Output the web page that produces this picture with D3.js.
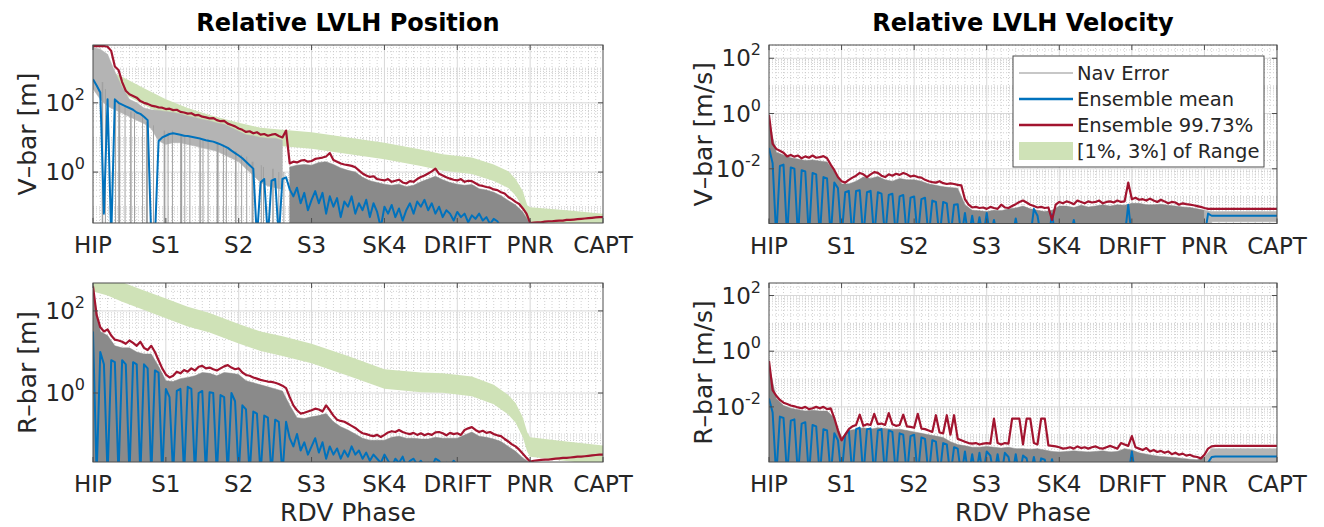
<!DOCTYPE html>
<html>
<head>
<meta charset="utf-8">
<script src="https://cdn.jsdelivr.net/npm/d3@7"></script>
<style>
  html, body { margin: 0; padding: 0; background: #fff; }
  svg { display: block; font-family: "DejaVu Sans", sans-serif; }
</style>
</head>
<body>
<svg id="fig" width="1324" height="527"></svg>
<script>
// ---- Rendezvous phases (x axis) ----
const phaseLabels = ["HIP", "S1", "S2", "S3", "SK4", "DRIFT", "PNR", "CAPT"];

// Traces are sampled every 0.05 phase; the Nav Error envelopes every 0.1 phase.
// All trace values are log10 of the error (m or m/s).
const STEP = 0.05;
const COARSE = 0.1;

// ---------- V-bar position error [m] ----------
const posVbarP997 = [
  3.64,3.64,3.64,3.64,3.62,3.5,3.05,2.95,2.6,2.35,2.25,2.2,2.15,2.05,2.0,1.97,1.92,1.9,1.87,1.86,
  1.82,1.83,1.79,1.8,1.74,1.72,1.69,1.7,1.64,1.65,1.6,1.58,1.55,1.56,1.5,1.47,1.48,1.4,1.36,1.32,
  1.26,1.22,1.16,1.18,1.12,1.15,1.08,1.1,1.05,1.08,1.1,1.04,1.0,1.2,0.25,0.3,0.28,0.33,0.35,0.3,
  0.32,0.38,0.4,0.42,0.45,0.55,0.35,0.3,0.25,0.22,0.2,0.18,0.14,0.05,-0.04,-0.1,-0.14,-0.12,-0.2,-0.22,
  -0.24,-0.2,-0.28,-0.25,-0.22,-0.3,-0.33,-0.26,-0.28,-0.2,-0.14,-0.1,-0.04,0.02,0.1,-0.05,-0.1,-0.15,-0.19,-0.22,
  -0.24,-0.2,-0.28,-0.25,-0.26,-0.32,-0.38,-0.4,-0.43,-0.45,-0.5,-0.52,-0.58,-0.62,-0.72,-0.78,-0.86,-0.92,-1.05,-1.2,
  -1.47,-1.46,-1.45,-1.45,-1.43,-1.42,-1.42,-1.41,-1.4,-1.4,-1.38,-1.38,-1.37,-1.36,-1.35,-1.34,-1.33,-1.32,-1.31,-1.3,
  -1.3
];
const posVbarMean = [
  2.68,2.5,2.3,-1.2,2.1,-1.9,2.1,2.0,1.95,1.9,1.85,1.8,1.72,1.68,1.6,1.5,-1.9,-1.9,0.9,1.0,
  1.05,1.1,1.12,1.1,1.08,1.05,1.04,1.02,1.0,0.98,0.95,0.92,0.9,0.88,0.84,0.8,0.75,0.7,0.62,0.55,
  0.48,0.4,0.3,0.2,0.1,-1.9,-0.3,-0.2,-1.9,-0.25,-0.2,-1.9,-0.2,-0.15,-0.5,-0.7,-0.45,-0.9,-0.6,-1.1,
  -0.8,-0.55,-0.9,-0.6,-1.2,-0.7,-1.0,-0.75,-1.3,-0.85,-1.0,-0.7,-1.2,-0.9,-1.1,-0.8,-1.3,-0.9,-1.15,-1.6,
  -1.0,-1.2,-0.95,-1.3,-1.05,-1.4,-1.1,-0.9,-1.2,-0.85,-1.0,-0.8,-1.1,-0.9,-1.2,-1.0,-1.3,-1.1,-1.2,-1.4,
  -1.15,-1.3,-1.2,-1.45,-1.25,-1.35,-1.2,-1.4,-1.3,-1.5,-1.35,-1.42,-1.6,-1.9,-1.9,-1.9,-1.9,-1.9,-1.9,-1.9,
  -1.9,-1.9,-1.9,-1.9,-1.9,-1.9,-1.9,-1.9,-1.9,-1.9,-1.9,-1.9,-1.9,-1.9,-1.9,-1.9,-1.9,-1.9,-1.9,-1.9,
  -1.9
];
const posVbarNavHi = [
  3.6,3.55,3.4,2.9,2.45,2.1,2.0,1.85,1.8,1.78,
  1.75,1.72,1.68,1.62,1.58,1.52,1.48,1.42,1.38,1.28,
  1.18,1.08,1.05,1.0,0.98,0.98,0.92,0.15,0.2,0.22,
  0.2,0.28,0.3,0.22,0.12,0.05,0.0,-0.15,-0.25,-0.3,
  -0.35,-0.38,-0.35,-0.42,-0.38,-0.28,-0.2,-0.12,-0.22,-0.3,
  -0.35,-0.38,-0.36,-0.48,-0.52,-0.58,-0.68,-0.82,-0.95,-1.15,
  -1.5,-1.5,-1.5,-1.5,-1.5,-1.5,-1.5,-1.5,-1.5,-1.5,
  -1.5
];
const posVbarNavLo = [
  2.4,2.1,1.9,1.8,1.7,1.6,1.5,1.4,1.25,0.9,
  0.8,0.85,0.85,0.8,0.75,0.7,0.65,0.6,0.5,0.4,
  0.3,0.1,-0.1,-0.3,-0.4,-0.45,-0.5,-2,-2,-2,
  -2,-2,-2,-2,-2,-2,-2,-2,-2,-2,
  -2,-2,-2,-2,-2,-2,-2,-2,-2,-2,
  -2,-2,-2,-2,-2,-2,-2,-2,-2,-2,
  -2,-2,-2,-2,-2,-2,-2,-2,-2,-2,
  -2
];
// individual Nav Error runs dropping through zero early in the approach
const posVbarDipPhase = [0.13,0.17,0.31,0.36,0.44,0.52,0.57,0.68,0.74,0.83,0.98,1.03,1.09,1.21,1.26,1.33,
  1.47,1.51,1.58,1.71,1.79,1.83,1.96,2.04,2.11,2.19,2.31,2.34,2.47,2.55,2.62];
const posVbarDipTop = [2.6,2.4,2.1,2.0,1.9,1.75,1.7,1.6,1.45,1.35,1.2,1.15,1.2,1.1,1.1,1.05,
  1.0,0.95,0.95,0.85,0.8,0.75,0.6,0.5,0.45,0.3,0.2,0.15,0.1,0.0,0.0];
const posVbarDipWidth = [1.5,1,1,2,1,1.5,1,1,2,1,1.5,1,1,2,1,1,1.5,1,1,2,1,1,1.5,1,1,2,1,1,1.5,1,1];

// ---------- R-bar position error [m] ----------
const posRbarP997 = [
  2.6,1.9,1.6,1.5,1.55,1.4,1.3,1.28,1.25,1.2,1.28,1.22,1.15,1.25,1.1,1.05,1.15,1.0,0.8,0.6,
  0.45,0.38,0.42,0.52,0.48,0.56,0.52,0.6,0.55,0.64,0.66,0.6,0.62,0.58,0.55,0.6,0.65,0.68,0.62,0.58,
  0.6,0.5,0.44,0.42,0.38,0.35,0.32,0.3,0.28,0.27,0.25,0.22,0.18,0.12,-0.1,-0.3,-0.42,-0.5,-0.48,-0.45,
  -0.42,-0.38,-0.4,-0.45,-0.3,-0.42,-0.55,-0.65,-0.68,-0.7,-0.75,-0.8,-0.85,-0.92,-0.98,-1.0,-1.03,-1.05,-1.02,-1.07,
  -1.02,-0.96,-0.93,-0.95,-0.9,-0.95,-0.98,-1.0,-0.97,-1.02,-0.98,-1.03,-0.99,-1.02,-0.96,-0.95,-0.98,-1.03,-0.97,-1.0,
  -0.98,-1.02,-0.9,-0.86,-0.83,-0.9,-0.95,-0.92,-0.97,-0.95,-1.0,-1.03,-1.05,-1.12,-1.18,-1.25,-1.3,-1.38,-1.48,-1.58,
  -1.67,-1.65,-1.64,-1.63,-1.62,-1.62,-1.61,-1.6,-1.59,-1.58,-1.58,-1.57,-1.56,-1.55,-1.55,-1.54,-1.53,-1.52,-1.51,-1.5,
  -1.5
];
const posRbarMean = [
  1.5,-2,1.0,0.7,-2,0.8,0.75,-2,0.8,0.7,-2,0.75,0.7,-2,0.7,0.6,-2,0.55,0.5,-2,
  0.1,-0.1,-2,0.05,0.1,-2,0.15,0.1,-2,0.0,0.05,-2,0.02,0.0,-2,-0.05,-0.1,-2,0.0,-0.2,
  -2,-0.3,-0.4,-2,-0.45,-0.5,-2,-0.55,-0.6,-2,-0.65,-0.7,-2,-0.7,-1.1,-1.3,-1.0,-1.4,-1.2,-1.5,
  -1.3,-1.1,-1.45,-1.2,-1.6,-1.3,-1.5,-1.35,-1.6,-1.4,-1.55,-1.3,-1.5,-1.4,-1.6,-1.45,-1.65,-1.5,-1.6,-1.7,
  -1.5,-1.65,-1.8,-1.6,-1.7,-1.55,-1.8,-1.65,-1.6,-1.75,-1.65,-1.8,-1.7,-1.8,-1.6,-1.65,-1.8,-1.7,-1.8,-1.65,
  -1.75,-1.8,-1.9,-1.9,-1.9,-1.9,-1.9,-1.9,-1.9,-1.9,-1.9,-1.9,-1.9,-1.9,-1.9,-1.9,-1.9,-1.9,-1.9,-1.9,
  -1.9,-1.9,-1.9,-1.9,-1.9,-1.9,-1.9,-1.9,-1.9,-1.9,-1.9,-1.9,-1.9,-1.9,-1.9,-1.9,-1.9,-1.9,-1.9,-1.9,
  -1.9
];
const posRbarNavHi = [
  2.5,1.5,1.4,1.15,1.1,1.1,1.0,0.95,0.95,0.65,
  0.3,0.28,0.35,0.38,0.42,0.5,0.48,0.42,0.5,0.48,
  0.45,0.3,0.25,0.2,0.15,0.1,0.05,-0.3,-0.6,-0.62,
  -0.58,-0.55,-0.5,-0.7,-0.82,-0.9,-1.0,-1.1,-1.15,-1.15,
  -1.15,-1.08,-1.05,-1.1,-1.1,-1.12,-1.12,-1.08,-1.1,-1.1,
  -1.1,-1.02,-0.95,-1.05,-1.08,-1.12,-1.18,-1.3,-1.42,-1.58,
  -1.7,-1.7,-1.7,-1.7,-1.7,-1.7,-1.7,-1.7,-1.7,-1.7,
  -1.7
];

// Reference range per axis [m]; the shaded band spans 1 % to 3 % of it
const bandPhase = [0,0.2,0.4,0.7,1.0,1.3,1.6,2.0,2.3,2.6,3.0,3.5,4.0,4.5,4.8,5.2,5.5,5.7,5.8,5.9,5.96,6.0,6.5,7.0];
const vbarRangeM = [37400,29700,18800,8800,4200,2350,1490,880,640,556,470,333,236,149,110,88,55,35,21,9.4,3.7,3.2,2.65,2.1];
const rbarRangeM = [29700,23600,16700,10500,6650,4200,2970,1600,1050,800,528,265,127,105,101,84,53,30,19,8.4,3.7,2.8,2.2,1.75];

// ---------- V-bar velocity error [m/s] ----------
const velVbarP997 = [
  -0.05,-1.1,-1.28,-1.35,-1.42,-1.55,-1.5,-1.56,-1.52,-1.62,-1.55,-1.6,-1.52,-1.6,-1.58,-1.54,-1.62,-1.85,-2.05,-2.3,
  -2.45,-2.5,-2.4,-2.32,-2.25,-2.15,-2.2,-2.3,-2.2,-2.12,-2.15,-2.25,-2.3,-2.2,-2.25,-2.18,-2.22,-2.15,-2.2,-2.28,
  -2.25,-2.3,-2.32,-2.4,-2.45,-2.48,-2.5,-2.45,-2.52,-2.55,-2.53,-2.55,-2.58,-2.6,-3.1,-3.3,-3.4,-3.38,-3.42,-3.4,
  -3.45,-3.38,-3.42,-3.45,-3.3,-3.4,-3.42,-3.35,-3.28,-3.2,-3.15,-3.22,-3.3,-3.35,-3.4,-3.38,-3.42,-3.4,-3.85,-3.3,
  -3.2,-3.25,-3.18,-3.22,-3.28,-3.15,-3.2,-3.25,-3.18,-3.22,-3.2,-3.15,-3.25,-3.2,-3.18,-3.22,-3.15,-3.2,-3.18,-2.5,
  -3.1,-3.05,-3.12,-3.1,-3.15,-3.08,-3.15,-3.2,-3.12,-3.18,-3.25,-3.2,-3.22,-3.3,-3.25,-3.28,-3.3,-3.32,-3.35,-3.38,
  -3.42,-3.45,-3.45,-3.45,-3.45,-3.45,-3.45,-3.45,-3.45,-3.45,-3.45,-3.45,-3.45,-3.45,-3.45,-3.45,-3.45,-3.45,-3.45,-3.45,
  -3.45
];
const velVbarMean = [
  -1.25,-1.8,-4.5,-1.9,-1.85,-4.5,-1.95,-2.0,-4.5,-2.05,-2.1,-4.5,-2.15,-2.2,-4.5,-2.3,-2.35,-4.5,-2.5,-2.7,
  -4.5,-2.85,-2.8,-4.5,-2.8,-2.78,-4.5,-2.85,-2.8,-4.5,-2.85,-2.9,-4.5,-2.95,-2.9,-4.5,-3.0,-2.95,-4.5,-3.05,
  -3.0,-4.5,-3.1,-3.05,-4.5,-3.15,-3.2,-4.5,-3.2,-3.25,-4.5,-3.3,-3.28,-4.5,-3.6,-4.5,-3.7,-4.5,-3.75,-4.5,
  -3.6,-4.5,-3.85,-4.5,-4.5,-4.5,-4.5,-4.5,-3.8,-4.5,-4.5,-4.5,-4.5,-3.45,-3.7,-4.5,-4.5,-4.5,-3.65,-4.5,
  -4.5,-4.5,-4.5,-4.5,-3.85,-4.5,-4.5,-4.5,-4.5,-4.5,-4.5,-4.5,-4.5,-4.5,-4.5,-4.5,-4.5,-4.5,-4.5,-3.3,
  -4.5,-4.5,-4.5,-4.5,-4.5,-4.5,-4.5,-4.5,-4.5,-4.5,-4.5,-4.5,-4.5,-4.5,-4.5,-4.5,-4.5,-4.5,-4.5,-4.5,
  -4.5,-3.62,-3.7,-3.7,-3.7,-3.7,-3.7,-3.7,-3.7,-3.7,-3.7,-3.7,-3.7,-3.7,-3.7,-3.7,-3.7,-3.7,-3.7,-3.7,
  -3.7
];
const velVbarNavHi = [
  -0.3,-1.4,-1.5,-1.6,-1.65,-1.7,-1.68,-1.72,-1.75,-2.1,
  -2.55,-2.55,-2.45,-2.3,-2.35,-2.28,-2.4,-2.45,-2.35,-2.4,
  -2.4,-2.45,-2.55,-2.6,-2.65,-2.68,-2.7,-3.3,-3.5,-3.52,
  -3.55,-3.5,-3.52,-3.45,-3.42,-3.35,-3.45,-3.5,-3.55,-3.5,
  -3.35,-3.35,-3.4,-3.32,-3.38,-3.35,-3.3,-3.35,-3.3,-3.32,
  -3.25,-3.25,-3.3,-3.3,-3.28,-3.32,-3.35,-3.38,-3.4,-3.45,
  -3.5,-3.55,-3.55,-3.55,-3.55,-3.55,-3.55,-3.55,-3.55,-3.55,
  -3.55
];
const velVbarNavLo = [
  -5,-5,-5,-5,-5,-5,-5,-5,-5,-5,
  -5,-5,-5,-5,-5,-5,-5,-5,-5,-5,
  -5,-5,-5,-5,-5,-5,-5,-5,-5,-5,
  -5,-5,-5,-5,-5,-5,-5,-5,-5,-5,
  -5,-5,-5,-5,-5,-5,-5,-5,-5,-5,
  -5,-5,-5,-5,-5,-5,-5,-5,-5,-5,
  -5,-3.92,-3.92,-3.92,-3.92,-3.92,-3.92,-3.92,-3.92,-3.92,
  -3.92
];

// ---------- R-bar velocity error [m/s] ----------
const velRbarP997 = [
  -0.35,-1.4,-1.6,-1.75,-1.85,-1.9,-1.95,-1.98,-2.02,-2.05,-2.0,-2.08,-2.05,-2.0,-2.05,-2.0,-2.08,-2.05,-2.4,-2.85,
  -3.2,-3.0,-2.8,-2.7,-2.65,-2.28,-2.68,-2.62,-2.65,-2.25,-2.62,-2.6,-2.65,-2.22,-2.62,-2.68,-2.65,-2.28,-2.7,-2.72,
  -2.75,-2.25,-2.78,-2.8,-2.85,-2.9,-2.3,-2.92,-2.95,-2.3,-3.0,-2.3,-3.15,-3.2,-3.25,-3.3,-3.32,-3.3,-3.35,-3.32,
  -3.3,-3.32,-2.42,-3.3,-3.35,-3.3,-3.32,-2.42,-2.42,-2.42,-3.35,-2.42,-2.42,-3.3,-3.35,-2.42,-2.42,-3.38,-3.4,-3.42,
  -3.45,-3.5,-3.48,-3.45,-3.5,-3.42,-3.48,-3.45,-3.5,-3.45,-3.42,-3.48,-3.5,-3.45,-3.4,-3.45,-3.5,-3.3,-3.35,-3.4,
  -3.05,-3.45,-3.5,-3.55,-3.48,-3.6,-3.55,-3.62,-3.58,-3.65,-3.6,-3.7,-3.65,-3.72,-3.68,-3.75,-3.72,-3.78,-3.8,-3.85,
  -3.72,-3.5,-3.42,-3.4,-3.4,-3.4,-3.4,-3.4,-3.4,-3.4,-3.4,-3.4,-3.4,-3.4,-3.4,-3.4,-3.4,-3.4,-3.4,-3.4,
  -3.4
];
const velRbarMean = [
  -1.7,-2.2,-4.5,-2.35,-2.4,-4.5,-2.5,-2.45,-4.5,-2.6,-2.55,-4.5,-2.65,-2.7,-4.5,-2.8,-2.85,-4.5,-2.95,-3.2,
  -4.5,-3.0,-2.85,-4.5,-2.8,-2.75,-4.5,-2.8,-2.78,-4.5,-2.85,-2.8,-4.5,-2.85,-2.9,-4.5,-2.95,-3.0,-4.5,-3.05,
  -3.0,-4.5,-3.1,-3.15,-4.5,-3.2,-3.25,-4.5,-3.3,-3.35,-4.5,-3.45,-3.5,-4.5,-3.6,-4.5,-3.7,-4.5,-3.65,-4.5,
  -3.6,-3.75,-4.5,-3.7,-4.5,-3.65,-3.8,-4.5,-3.7,-4.5,-3.75,-3.85,-4.5,-3.8,-4.5,-3.85,-3.9,-4.5,-3.88,-4.5,
  -4.5,-4.5,-4.5,-4.5,-4.5,-4.5,-4.5,-4.5,-4.5,-4.5,-4.5,-4.5,-4.5,-4.5,-4.5,-4.5,-4.5,-4.5,-4.5,-4.5,
  -3.6,-4.5,-4.5,-4.5,-4.5,-4.5,-4.5,-4.5,-4.5,-4.5,-4.5,-4.5,-4.5,-4.5,-4.5,-4.5,-4.5,-4.5,-4.5,-4.5,
  -4.5,-4.0,-3.8,-3.78,-3.78,-3.78,-3.78,-3.78,-3.78,-3.78,-3.78,-3.78,-3.78,-3.78,-3.78,-3.78,-3.78,-3.78,-3.78,-3.78,
  -3.78
];
const velRbarNavHi = [
  -0.5,-1.7,-1.95,-2.05,-2.1,-2.15,-2.12,-2.15,-2.15,-2.4,
  -3.1,-2.85,-2.8,-2.75,-2.8,-2.75,-2.78,-2.8,-2.8,-2.85,
  -2.9,-2.95,-3.0,-3.05,-3.1,-3.25,-3.35,-3.4,-3.45,-3.45,
  -3.42,-3.45,-3.48,-3.45,-3.5,-3.5,-3.52,-3.5,-3.55,-3.6,
  -3.62,-3.6,-3.58,-3.6,-3.62,-3.6,-3.58,-3.62,-3.6,-3.5,
  -3.55,-3.65,-3.7,-3.75,-3.78,-3.8,-3.82,-3.85,-3.88,-3.9,
  -3.8,-3.5,-3.5,-3.5,-3.5,-3.5,-3.5,-3.5,-3.5,-3.5,
  -3.5
];
const velRbarNavLo = [
  -5,-5,-5,-5,-5,-5,-5,-5,-5,-5,
  -5,-5,-5,-5,-5,-5,-5,-5,-5,-5,
  -5,-5,-5,-5,-5,-5,-5,-5,-5,-5,
  -5,-5,-5,-5,-5,-5,-5,-5,-5,-5,
  -5,-5,-5,-5,-5,-5,-5,-5,-5,-5,
  -5,-5,-5,-5,-5,-5,-5,-5,-5,-5,
  -5,-3.95,-3.95,-3.95,-3.95,-3.95,-3.95,-3.95,-3.95,-3.95,
  -3.95
];
const floorLo = d3.range(71).map(() => -5);

// ---- Colours ----
const C_RED = "#a2142f", C_BLUE = "#0072bd", C_NAV = "#8a8a8a", C_NAV_LIGHT = "#b4b4b4", C_BAND = "#cfe2b7";

const svg = d3.select("#fig");
const fine = posVbarP997.map((_, i) => i * STEP);
const coarse = posVbarNavHi.map((_, i) => i * COARSE);

const panels = [
  { x0: 93, x1: 603, y0: 45, y1: 223, ylog: [-1.47, 3.67], ylabel: "V\u2013bar [m]",
    p997: posVbarP997, mean: posVbarMean, navHi: posVbarNavHi, navLo: posVbarNavLo,
    lightUntil: 2.65, band: vbarRangeM, dips: [posVbarDipPhase, posVbarDipTop, posVbarDipWidth],
    title: "Relative LVLH Position" },
  { x0: 93, x1: 603, y0: 283, y1: 462, ylog: [-1.68, 2.68], ylabel: "R\u2013bar [m]",
    p997: posRbarP997, mean: posRbarMean, navHi: posRbarNavHi, navLo: floorLo,
    band: rbarRangeM, xlabel: "RDV Phase" },
  { x0: 769, x1: 1277, y0: 45, y1: 223.5, ylog: [-3.98, 2.48], ylabel: "V\u2013bar [m/s]",
    p997: velVbarP997, mean: velVbarMean, navHi: velVbarNavHi, navLo: velVbarNavLo,
    legend: true, title: "Relative LVLH Velocity" },
  { x0: 769, x1: 1277, y0: 283, y1: 462, ylog: [-3.98, 2.45], ylabel: "R\u2013bar [m/s]",
    p997: velRbarP997, mean: velRbarMean, navHi: velRbarNavHi, navLo: velRbarNavLo,
    xlabel: "RDV Phase" }
];

const supers = { "-4": "-4", "-2": "-2", "0": "0", "2": "2" };

panels.forEach((p, k) => {
  const x = d3.scaleLinear().domain([0, 7]).range([p.x0, p.x1]);
  const y = d3.scaleLog().domain([10 ** p.ylog[0], 10 ** p.ylog[1]]).range([p.y1, p.y0]);
  const g = svg.append("g");
  const clipId = "clip" + k;
  g.append("clipPath").attr("id", clipId).append("rect")
    .attr("x", p.x0).attr("y", p.y0).attr("width", p.x1 - p.x0).attr("height", p.y1 - p.y0);

  g.append("rect").attr("x", p.x0).attr("y", p.y0).attr("width", p.x1 - p.x0)
    .attr("height", p.y1 - p.y0).attr("fill", "#fff");

  // minor grid
  const minorX = d3.range(0, 70).map(i => i / 10).filter(v => Math.abs(v - Math.round(v)) > 1e-6);
  g.append("g").selectAll("line").data(minorX).join("line")
    .attr("x1", d => x(d)).attr("x2", d => x(d)).attr("y1", p.y0).attr("y2", p.y1)
    .attr("stroke", "#c4c4c4").attr("stroke-width", 0.8).attr("stroke-dasharray", "1,2");
  const majorY = [-4, -2, 0, 2].filter(e => e >= p.ylog[0] && e <= p.ylog[1]);
  const minorY = [];
  for (let e = Math.floor(p.ylog[0]); e <= Math.ceil(p.ylog[1]); e++) {
    for (let m = 1; m <= 9; m++) {
      const v = m * 10 ** e, lv = Math.log10(v);
      if (lv <= p.ylog[0] || lv >= p.ylog[1]) continue;
      if (m === 1 && majorY.includes(e)) continue;
      minorY.push(v);
    }
  }
  g.append("g").selectAll("line").data(minorY).join("line")
    .attr("x1", p.x0).attr("x2", p.x1).attr("y1", d => y(d)).attr("y2", d => y(d))
    .attr("stroke", "#c4c4c4").attr("stroke-width", 0.8).attr("stroke-dasharray", "1,2");

  // major grid
  g.append("g").selectAll("line").data(d3.range(1, 7)).join("line")
    .attr("x1", d => x(d)).attr("x2", d => x(d)).attr("y1", p.y0).attr("y2", p.y1)
    .attr("stroke", "#d8d8d8").attr("stroke-width", 1);
  g.append("g").selectAll("line").data(majorY).join("line")
    .attr("x1", p.x0).attr("x2", p.x1).attr("y1", d => y(10 ** d)).attr("y2", d => y(10 ** d))
    .attr("stroke", "#d8d8d8").attr("stroke-width", 1);

  const plot = g.append("g").attr("clip-path", `url(#${clipId})`);

  // [1%, 3%] of range band
  if (p.band) {
    const band = d3.area()
      .x((d, i) => x(bandPhase[i]))
      .y0(d => y(0.01 * d)).y1(d => y(0.03 * d));
    plot.append("path").datum(p.band).attr("d", band).attr("fill", C_BAND);
  }

  // Nav Error ensemble
  const navIdx = d3.range(coarse.length);
  const navArea = d3.area()
    .x(i => x(coarse[i]))
    .y0(i => y(10 ** p.navLo[i])).y1(i => y(10 ** p.navHi[i]));
  if (p.lightUntil !== undefined) {
    plot.append("path").datum(navIdx.filter(i => coarse[i] <= p.lightUntil + 0.01))
      .attr("d", navArea).attr("fill", C_NAV_LIGHT).attr("stroke", C_NAV_LIGHT).attr("stroke-width", 0.5);
    plot.append("path").datum(navIdx.filter(i => coarse[i] >= p.lightUntil + 0.04))
      .attr("d", navArea).attr("fill", C_NAV).attr("stroke", C_NAV).attr("stroke-width", 0.5);
  } else {
    plot.append("path").datum(navIdx.filter(i => coarse[i] <= 6.0 + 1e-6))
      .attr("d", navArea).attr("fill", C_NAV).attr("stroke", C_NAV).attr("stroke-width", 0.5);
    plot.append("path").datum(navIdx.filter(i => coarse[i] >= 6.0 - 1e-6))
      .attr("d", navArea).attr("fill", C_NAV_LIGHT).attr("stroke", C_NAV_LIGHT).attr("stroke-width", 0.5);
  }
  if (p.dips) {
    const [ph, top, wd] = p.dips;
    plot.append("g").selectAll("line").data(ph).join("line")
      .attr("x1", d => x(d)).attr("x2", d => x(d))
      .attr("y1", (d, i) => y(10 ** top[i])).attr("y2", p.y1 + 2)
      .attr("stroke", "#a0a0a0").attr("stroke-width", (d, i) => wd[i]);
  }

  const line = d3.line().x((d, i) => x(fine[i])).y(d => y(10 ** d));
  plot.append("path").datum(p.mean).attr("d", line).attr("fill", "none")
    .attr("stroke", C_BLUE).attr("stroke-width", 2).attr("stroke-linejoin", "round");
  plot.append("path").datum(p.p997).attr("d", line).attr("fill", "none")
    .attr("stroke", C_RED).attr("stroke-width", 2.2).attr("stroke-linejoin", "round");

  // box and ticks
  g.append("rect").attr("x", p.x0).attr("y", p.y0).attr("width", p.x1 - p.x0)
    .attr("height", p.y1 - p.y0).attr("fill", "none").attr("stroke", "#4d4d4d").attr("stroke-width", 1);
  const tk = g.append("g").attr("stroke", "#4d4d4d").attr("stroke-width", 1);
  d3.range(0, 8).forEach(v => {
    tk.append("line").attr("x1", x(v)).attr("x2", x(v)).attr("y1", p.y1).attr("y2", p.y1 - 5);
    tk.append("line").attr("x1", x(v)).attr("x2", x(v)).attr("y1", p.y0).attr("y2", p.y0 + 5);
  });
  majorY.forEach(e => {
    tk.append("line").attr("x1", p.x0).attr("x2", p.x0 + 5).attr("y1", y(10 ** e)).attr("y2", y(10 ** e));
    tk.append("line").attr("x1", p.x1).attr("x2", p.x1 - 5).attr("y1", y(10 ** e)).attr("y2", y(10 ** e));
  });

  // tick labels
  g.append("g").selectAll("text").data(phaseLabels).join("text")
    .attr("x", (d, i) => x(i)).attr("y", p.y1 + 30)
    .attr("text-anchor", "middle").attr("font-size", 23).attr("fill", "#262626").text(d => d);
  majorY.forEach(e => {
    const t = g.append("text").attr("x", p.x0 - 8).attr("y", y(10 ** e) + 8)
      .attr("text-anchor", "end").attr("font-size", 23).attr("fill", "#262626");
    t.append("tspan").text("10");
    t.append("tspan").attr("dy", -11).attr("font-size", 16).text(supers[String(e)]);
  });

  // axis labels
  const midY = (p.y0 + p.y1) / 2;
  g.append("text").attr("transform", `translate(${p.x0 - 57},${midY}) rotate(-90)`)
    .attr("text-anchor", "middle").attr("font-size", 25).attr("fill", "#262626").text(p.ylabel);
  if (p.xlabel) {
    g.append("text").attr("x", (p.x0 + p.x1) / 2).attr("y", p.y1 + 59)
      .attr("text-anchor", "middle").attr("font-size", 25).attr("fill", "#262626").text(p.xlabel);
  }
  if (p.title) {
    g.append("text").attr("x", (p.x0 + p.x1) / 2).attr("y", 31)
      .attr("text-anchor", "middle").attr("font-size", 24).attr("font-weight", "bold")
      .attr("fill", "#000").text(p.title);
  }

  // legend
  if (p.legend) {
    const lg = g.append("g");
    lg.append("rect").attr("x", 1013).attr("y", 56).attr("width", 251).attr("height", 111)
      .attr("fill", "#fff").attr("stroke", "#4d4d4d").attr("stroke-width", 1);
    const items = [
      { label: "Nav Error", kind: "line", color: C_NAV_LIGHT, w: 1.5 },
      { label: "Ensemble mean", kind: "line", color: C_BLUE, w: 2.5 },
      { label: "Ensemble 99.73%", kind: "line", color: C_RED, w: 2.5 },
      { label: "[1%, 3%] of Range", kind: "patch", color: C_BAND }
    ];
    items.forEach((it, i) => {
      const cy = 73 + i * 26;
      if (it.kind === "line") {
        lg.append("line").attr("x1", 1019).attr("x2", 1073).attr("y1", cy).attr("y2", cy)
          .attr("stroke", it.color).attr("stroke-width", it.w);
      } else {
        lg.append("rect").attr("x", 1019).attr("y", cy - 9).attr("width", 54).attr("height", 18)
          .attr("fill", it.color);
      }
      lg.append("text").attr("x", 1077).attr("y", cy + 7).attr("font-size", 19.5)
        .attr("fill", "#262626").text(it.label);
    });
  }
});
</script>
</body>
</html>
